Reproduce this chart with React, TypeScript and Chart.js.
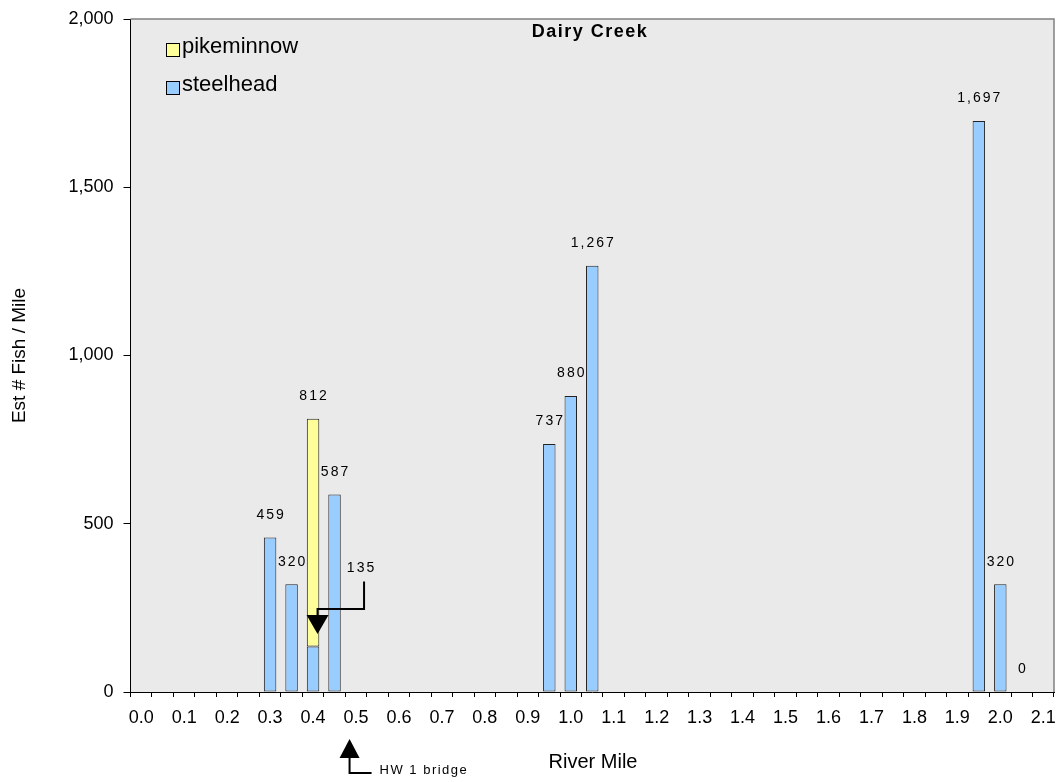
import React, { useEffect, useRef } from 'react';
import { Chart, registerables } from 'chart.js';

Chart.register(...registerables);

// ---- data ----
const categories = [
  '0.00', '0.05', '0.10', '0.15', '0.20', '0.25', '0.30', '0.35', '0.40', '0.45',
  '0.50', '0.55', '0.60', '0.65', '0.70', '0.75', '0.80', '0.85', '0.90', '0.95',
  '1.00', '1.05', '1.10', '1.15', '1.20', '1.25', '1.30', '1.35', '1.40', '1.45',
  '1.50', '1.55', '1.60', '1.65', '1.70', '1.75', '1.80', '1.85', '1.90', '1.95',
  '2.00', '2.05', '2.10',
];
const steelheadMiles = ['0.30', '0.35', '0.40', '0.45', '0.95', '1.00', '1.05', '1.95', '2.00', '2.05'];
const steelheadValues = [459, 320, 135, 587, 737, 880, 1267, 1697, 320, 0];
const pikeminnowMiles = ['0.40'];
const pikeminnowValues = [677];
const yTickValues = [0, 500, 1000, 1500, 2000];
const calloutMile = '0.40';
const calloutValue = 135;
const bridgeMile = 0.485;
const bridgeLabel = 'HW 1 bridge';
const chartTitle = 'Dairy Creek';
const xTitle = 'River Mile';
const yTitle = 'Est # Fish / Mile';

const FONT = 'Arial, "Liberation Sans", Helvetica, sans-serif';
const STEEL = '#99CCFF';
const PIKE = '#FFFF99';

const fmt = (v: number) => v.toLocaleString('en-US');

function totalAt(mile: string): number {
  let t = 0;
  steelheadMiles.forEach((m, i) => { if (m === mile) t += steelheadValues[i]; });
  pikeminnowMiles.forEach((m, i) => { if (m === mile) t += pikeminnowValues[i]; });
  return t;
}

const allMiles = Array.from(new Set([...steelheadMiles, ...pikeminnowMiles]));

const decorPlugin = {
  id: 'decor',
  beforeDraw(chart: any) {
    const { ctx, chartArea: a } = chart;
    ctx.save();
    ctx.fillStyle = '#EAEAEA';
    ctx.fillRect(a.left, a.top, a.right - a.left, a.bottom - a.top);
    ctx.restore();
  },
  afterDatasetsDraw(chart: any) {
    const { ctx, chartArea: a } = chart;
    const xs = chart.scales.x;
    const ys = chart.scales.y;
    ctx.save();
    // top/right frame
    ctx.strokeStyle = '#808080';
    ctx.lineWidth = 1.5;
    ctx.beginPath();
    ctx.moveTo(a.left, a.top);
    ctx.lineTo(a.right, a.top);
    ctx.lineTo(a.right, a.bottom);
    ctx.stroke();

    // value labels (totals)
    ctx.fillStyle = '#000';
    ctx.font = `14px ${FONT}`;
    (ctx as any).letterSpacing = '2px';
    ctx.textAlign = 'center';
    ctx.textBaseline = 'middle';
    allMiles.forEach((m) => {
      const idx = categories.indexOf(m);
      const t = totalAt(m);
      const x = xs.getPixelForValue(idx);
      const y = ys.getPixelForValue(t);
      ctx.fillText(fmt(t), x + 1, y - 22.5);
    });

    // callout for steelhead portion at 0.40
    const ci = categories.indexOf(calloutMile);
    const cx = xs.getPixelForValue(ci);
    const cy = ys.getPixelForValue(calloutValue);
    const tipX = cx + 4.5;
    const tipY = cy - 12.5;
    ctx.fillText(fmt(calloutValue), cx + 48.5, cy - 78.5);
    ctx.strokeStyle = '#000';
    ctx.lineWidth = 2;
    ctx.beginPath();
    ctx.moveTo(cx + 51, cy - 65);
    ctx.lineTo(cx + 51, cy - 37.5);
    ctx.lineTo(tipX, cy - 37.5);
    ctx.lineTo(tipX, tipY - 18);
    ctx.stroke();
    ctx.beginPath();
    ctx.moveTo(tipX - 11, tipY - 19);
    ctx.lineTo(tipX + 11, tipY - 19);
    ctx.lineTo(tipX, tipY);
    ctx.closePath();
    ctx.fill();

    // title
    ctx.font = `bold 18px ${FONT}`;
    (ctx as any).letterSpacing = '1.5px';
    ctx.fillText(chartTitle, 590, a.top + 13);

    // legend
    (ctx as any).letterSpacing = '0px';
    const legendItems = [
      { label: chart.data.datasets[1].label, color: chart.data.datasets[1].backgroundColor },
      { label: chart.data.datasets[0].label, color: chart.data.datasets[0].backgroundColor },
    ];
    ctx.font = `22px ${FONT}`;
    ctx.textAlign = 'left';
    legendItems.forEach((it, i) => {
      const by = a.top + 24 + i * 38;
      ctx.fillStyle = it.color;
      ctx.fillRect(166, by, 13, 13);
      ctx.strokeStyle = '#000';
      ctx.lineWidth = 1;
      ctx.strokeRect(166.5, by + 0.5, 13, 13);
      ctx.fillStyle = '#000';
      ctx.fillText(it.label, 182, by + 4);
    });
    ctx.restore();
  },
  afterDraw(chart: any) {
    const { ctx, chartArea: a } = chart;
    const xs = chart.scales.x;
    ctx.save();
    ctx.fillStyle = '#000';
    ctx.textBaseline = 'middle';
    ctx.textAlign = 'center';
    // x title
    ctx.font = `20px ${FONT}`;
    ctx.fillText(xTitle, 593, 762);
    // y title
    ctx.save();
    ctx.translate(20, (a.top + a.bottom) / 2);
    ctx.rotate(-Math.PI / 2);
    ctx.font = `19px ${FONT}`;
    ctx.fillText(yTitle, 0, 0);
    ctx.restore();

    // bridge annotation
    const lo = Math.floor(bridgeMile / 0.05 + 1e-9);
    const frac = bridgeMile / 0.05 - lo;
    const bx = xs.getPixelForValue(lo) + frac * (xs.getPixelForValue(lo + 1) - xs.getPixelForValue(lo));
    const tipY = a.bottom + 47;
    ctx.beginPath();
    ctx.moveTo(bx, tipY);
    ctx.lineTo(bx + 10, tipY + 19);
    ctx.lineTo(bx - 10, tipY + 19);
    ctx.closePath();
    ctx.fill();
    ctx.strokeStyle = '#000';
    ctx.lineWidth = 2;
    ctx.beginPath();
    ctx.moveTo(bx, tipY + 19);
    ctx.lineTo(bx, tipY + 34);
    ctx.lineTo(bx + 22, tipY + 34);
    ctx.stroke();
    ctx.font = `13px ${FONT}`;
    (ctx as any).letterSpacing = '1.5px';
    ctx.textAlign = 'left';
    ctx.fillText(bridgeLabel, bx + 30, tipY + 31);
    ctx.restore();
  },
};

export default function App() {
  const ref = useRef<HTMLCanvasElement | null>(null);
  useEffect(() => {
    document.body.style.margin = '0';
    const canvas = ref.current;
    if (!canvas) return;
    const chart = new Chart(canvas, {
      type: 'bar',
      data: {
        labels: categories,
        datasets: [
          {
            label: 'steelhead',
            data: steelheadMiles.map((m, i) => ({ x: m, y: steelheadValues[i] })),
            backgroundColor: STEEL,
            borderColor: '#222',
            borderWidth: 1,
            borderSkipped: false,
            barPercentage: 0.58,
            categoryPercentage: 1,
          },
          {
            label: 'pikeminnow',
            data: pikeminnowMiles.map((m, i) => ({ x: m, y: pikeminnowValues[i] })),
            backgroundColor: PIKE,
            borderColor: '#222',
            borderWidth: 1,
            borderSkipped: false,
            barPercentage: 0.58,
            categoryPercentage: 1,
          },
        ],
      },
      options: {
        responsive: false,
        animation: false,
        devicePixelRatio: 1,
        layout: { padding: { top: 19, right: 7, left: 0, bottom: 0 } },
        plugins: {
          legend: { display: false },
          tooltip: { enabled: false },
          title: { display: false },
        },
        scales: {
          x: {
            type: 'category',
            stacked: true,
            offset: true,
            grid: {
              offset: true,
              drawOnChartArea: false,
              drawTicks: true,
              tickLength: 5,
              color: '#000',
            },
            border: { display: true, color: '#000', width: 1 },
            ticks: {
              autoSkip: false,
              maxRotation: 0,
              minRotation: 0,
              padding: 10,
              color: '#000',
              font: { family: FONT, size: 18 },
              callback: (_v: any, i: number) => (i % 2 === 0 ? Number(categories[i]).toFixed(1) : ''),
            },
            afterFit: (s: any) => { s.height = 90; s.paddingLeft = 0; s.paddingRight = 0; },
          },
          y: {
            stacked: true,
            min: 0,
            max: 2000,
            afterBuildTicks: (s: any) => { s.ticks = yTickValues.map((v) => ({ value: v })); },
            grid: {
              drawOnChartArea: false,
              drawTicks: true,
              tickLength: 7,
              color: '#000',
            },
            border: { display: true, color: '#000', width: 1 },
            ticks: {
              padding: 10,
              color: '#000',
              font: { family: FONT, size: 18 },
              callback: (v: any) => fmt(Number(v)),
            },
            afterFit: (s: any) => { s.width = 130.5; s.paddingTop = 0; s.paddingBottom = 0; },
          },
        },
      },
      plugins: [decorPlugin],
    });
    return () => chart.destroy();
  }, []);
  return (
    <div style={{ width: 1061, height: 782, position: 'relative', background: '#fff' }}>
      <canvas ref={ref} width={1061} height={782} style={{ display: 'block', width: 1061, height: 782 }} />
    </div>
  );
}
